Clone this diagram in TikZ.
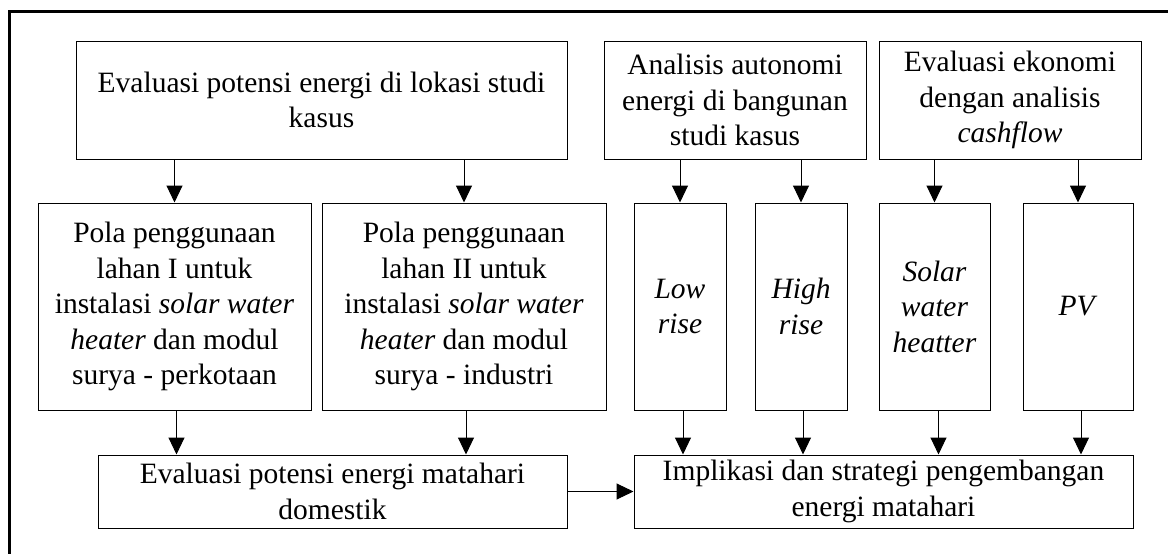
\documentclass[tikz,border=0pt]{standalone}
\usepackage{fontspec}
\setmainfont{Liberation Serif}
\usetikzlibrary{arrows.meta}

\tikzset{
  box/.style={draw, line width=1pt, inner sep=0pt, align=center,
    font=\fontsize{29.5}{35.5}\selectfont},
  topbox/.style={box, minimum height=118pt},
  midbox/.style={box, minimum height=207pt},
  lowbox/.style={box, minimum height=73pt},
  flow/.style={-{Triangle[length=17pt,width=16pt]}, line width=1pt},
  frame/.style={line width=3pt},
}

\begin{document}
\begin{tikzpicture}[x=1pt,y=-1pt]
\useasboundingbox (0,0) rectangle (1168,554);
\fill[white] (0,0) rectangle (1168,554);

% outer frame (top and left edges)
\draw[frame] (9,554) -- (9,11) -- (1168,11);

% top row
\node[topbox, minimum width=491pt] (A) at (321.5,100)
  {Evaluasi potensi energi di lokasi studi\\kasus};
\node[topbox, minimum width=262pt] (B) at (735,100)
  {Analisis autonomi\\energi di bangunan\\studi kasus};
\node[topbox, minimum width=262pt] (C) at (1010,100)
  {Evaluasi ekonomi\\dengan analisis\\\textit{cashflow}};

% middle row
\node[midbox, minimum width=273pt] (P1) at (174.5,306.5)
  {Pola penggunaan\\lahan I untuk\\instalasi \textit{solar water}\\\textit{heater} dan modul\\surya - perkotaan};
\node[midbox, minimum width=284pt] (P2) at (464,306.5)
  {Pola penggunaan\\lahan II untuk\\instalasi \textit{solar water}\\\textit{heater} dan modul\\surya - industri};
\node[midbox, minimum width=92pt] (LR) at (680,306.5)
  {\textit{Low}\\\textit{rise}};
\node[midbox, minimum width=92pt] (HR) at (801,306.5)
  {\textit{High}\\\textit{rise}};
\node[midbox, minimum width=111pt] (SW) at (934.5,306.5)
  {\textit{Solar}\\\textit{water}\\\textit{heatter}};
\node[midbox, minimum width=110pt] (PV) at (1078,306.5)
  {\textit{PV}};

% bottom row
\node[lowbox, minimum width=469pt] (D) at (332.5,491.5)
  {Evaluasi potensi energi matahari\\domestik};
\node[lowbox, minimum width=499pt] (I) at (883.5,491.5)
  {Implikasi dan strategi pengembangan\\energi matahari};

% connectors from the top row
\draw[flow] (P1.north |- A.south) -- (P1.north);
\draw[flow] (P2.north |- A.south) -- (P2.north);
\draw[flow] (LR.north |- B.south) -- (LR.north);
\draw[flow] (HR.north |- B.south) -- (HR.north);
\draw[flow] (SW.north |- C.south) -- (SW.north);
\draw[flow] (PV.north |- C.south) -- (PV.north);

% connectors into the bottom row
\draw[flow] ([xshift=2pt]P1.south) -- ([xshift=2pt]P1.south |- D.north);
\draw[flow] ([xshift=2pt]P2.south) -- ([xshift=2pt]P2.south |- D.north);
\draw[flow] ([xshift=3pt]LR.south) -- ([xshift=3pt]LR.south |- I.north);
\draw[flow] ([xshift=2pt]HR.south) -- ([xshift=2pt]HR.south |- I.north);
\draw[flow] ([xshift=4pt]SW.south) -- ([xshift=4pt]SW.south |- I.north);
\draw[flow] ([xshift=3pt]PV.south) -- ([xshift=3pt]PV.south |- I.north);
\draw[flow] (D.east) -- (I.west);
\end{tikzpicture}
\end{document}
